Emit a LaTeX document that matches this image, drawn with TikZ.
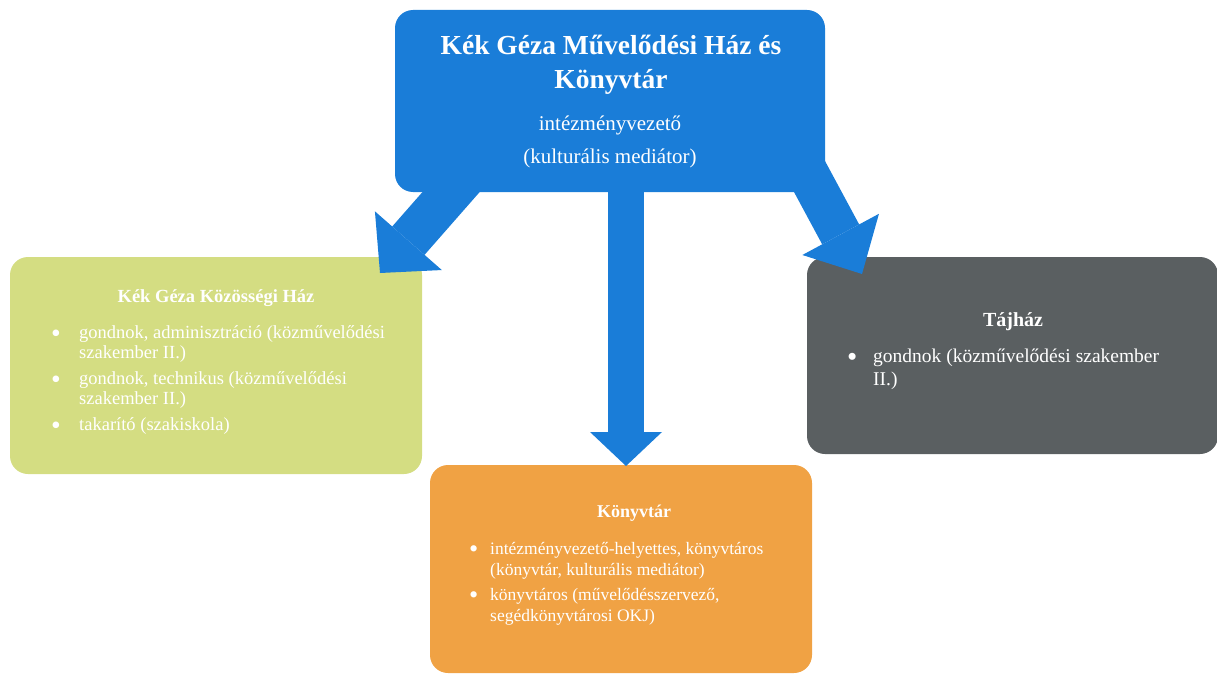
\documentclass[tikz,border=0pt]{standalone}
\usepackage{fontspec}
\usepackage{graphicx}
\setmainfont{Liberation Serif}
\usetikzlibrary{arrows.meta}
\definecolor{topblue}{RGB}{26,125,216}
\definecolor{boxgreen}{RGB}{212,221,130}
\definecolor{boxgray}{RGB}{90,95,97}
\definecolor{boxorange}{RGB}{240,162,68}
\newcommand\blt[1]{\makebox[#1][l]{\raisebox{-0.22em}{\scalebox{1.5}{\textbullet}}}}
\begin{document}
\begin{tikzpicture}[x=1pt,y=-1pt,
  box/.style={rounded corners=18pt, inner sep=0pt, draw=none},
  txt/.style={text=white, inner sep=0pt},
  bigarrow/.style n args={3}{draw=topblue, line width=#1,
     -{Triangle[width=#2, length=#3, line width=0pt]}}
]
\useasboundingbox (0,0) rectangle (1217,677);
% boxes
\node[box, fill=boxgreen, minimum width=412pt, minimum height=217pt] (green) at (216,365.5) {};
\node[box, fill=boxgray, minimum width=411pt, minimum height=197pt] (gray) at (1012.5,355.5) {};
\node[box, fill=boxorange, minimum width=382pt, minimum height=208pt] (orange) at (621,569) {};
% arrows
\coordinate (cstart) at (626,185);
\coordinate (ctip) at (626,466);
\coordinate (lstart) at (466,175);
\coordinate (ltip) at (380,273);
\coordinate (rstart) at (806,170);
\coordinate (rtip) at (862,274);
\draw[bigarrow={36pt}{72pt}{34pt}] (cstart) -- (ctip);
\draw[bigarrow={43pt}{89pt}{43pt}] (lstart) -- (ltip);
\draw[bigarrow={42pt}{87pt}{45pt}] (rstart) -- (rtip);
\node[box, fill=topblue, minimum width=430pt, minimum height=182pt] (top) at (610,101) {};
% top text
\node[txt, anchor=base, font=\bfseries\fontsize{27.5}{30}\selectfont] (t1) at (611,55) {Kék Géza Művelődési Ház és};
\node[txt, anchor=base, font=\bfseries\fontsize{27.5}{30}\selectfont] (t2) at (611,88) {Könyvtár};
\node[txt, anchor=base, font=\fontsize{21}{24}\selectfont] (t3) at (610,130) {intézményvezető};
\node[txt, anchor=base, font=\fontsize{21}{24}\selectfont] (t4) at (610,163) {(kulturális mediátor)};
% green text
\node[txt, anchor=base, font=\bfseries\fontsize{18.5}{21}\selectfont] (g0) at (216,302) {Kék Géza Közösségi Ház};
\node[txt, anchor=base west, font=\fontsize{18.5}{20}\selectfont] (g1) at (51,338) {%
\begin{tabular}[t]{@{}l@{}l@{}}
\blt{28pt} & gondnok, adminisztráció (közművelődési\\
 & szakember II.)\\[6pt]
\blt{28pt} & gondnok, technikus (közművelődési\\
 & szakember II.)\\[6pt]
\blt{28pt} & takarító (szakiskola)
\end{tabular}};
% gray text
\node[txt, anchor=base, font=\bfseries\fontsize{20}{23}\selectfont] (y0) at (1013,326) {Tájház};
\node[txt, anchor=base west, font=\fontsize{19.5}{23}\selectfont] (y1) at (847,362) {%
\begin{tabular}[t]{@{}l@{}l@{}}
\blt{26pt} & gondnok (közművelődési szakember\\
 & II.)
\end{tabular}};
% orange text
\node[txt, anchor=base, font=\bfseries\fontsize{18}{21}\selectfont] (o0) at (634,517) {Könyvtár};
\node[txt, anchor=base west, font=\fontsize{17.5}{21}\selectfont] (o1) at (469,554) {%
\begin{tabular}[t]{@{}l@{}l@{}}
\blt{21pt} & intézményvezető-helyettes, könyvtáros\\
 & (könyvtár, kulturális mediátor)\\[4pt]
\blt{21pt} & könyvtáros (művelődésszervező,\\
 & segédkönyvtárosi OKJ)
\end{tabular}};
\end{tikzpicture}
\end{document}
